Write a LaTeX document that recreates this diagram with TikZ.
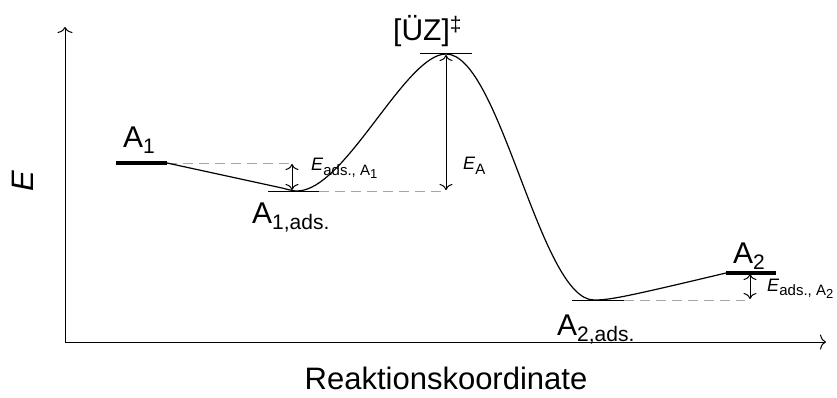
\documentclass[tikz,border=0pt]{standalone}
\usepackage{fontspec}
\setmainfont{Liberation Sans}
\usetikzlibrary{arrows.meta}
\newcommand\esub[1]{\raisebox{-0.45ex}{\fontsize{15}{15}\selectfont #1}}
\newcommand\nsub[1]{\raisebox{-0.35ex}{\fontsize{13}{13}\selectfont #1}}
\tikzset{
  lvlthick/.style={line width=3.5pt},
  lvlthin/.style={line width=1pt},
  guide/.style={gray!70, dash pattern=on 10pt off 6pt, line width=0.9pt},
  curve/.style={line width=1.2pt, line cap=round},
  dimarrow/.style={line width=1pt, {To[length=6pt,width=13pt]}-{To[length=6pt,width=13pt]}},
  axis/.style={line width=1pt, -{To[length=6pt,width=15pt]}},
  biglbl/.style={font=\fontsize{30}{33}\selectfont, inner sep=0pt, anchor=base west},
  axlbl/.style={font=\fontsize{31}{34}\selectfont, inner sep=0pt},
  smlbl/.style={font=\fontsize{18}{20}\selectfont, inner sep=0pt, anchor=base west}
}
\begin{document}
\begin{tikzpicture}[x=1pt,y=-1pt]
\useasboundingbox (0,0) rectangle (837,398);
% axes
\coordinate (O) at (65,342);
\coordinate (Ytop) at (65,27);
\coordinate (Xend) at (826,342);
\draw[axis] (O) -- (Ytop);
\draw[axis] (O) -- (Xend);
\node[axlbl, rotate=90] (Elbl) at (23,181) {\textit{E}};
\node[axlbl, anchor=base] (Xlbl) at (446,389) {Reaktionskoordinate};
% level coordinates
\coordinate (A1l) at (116,163);
\coordinate (A1r) at (167,163);
\coordinate (A1al) at (268,191);
\coordinate (A1ar) at (319,191);
\coordinate (A1m) at (297,191);
\coordinate (TSl) at (420,54);
\coordinate (TSr) at (472,54);
\coordinate (TSm) at (446,54);
\coordinate (A2al) at (572,300);
\coordinate (A2ar) at (624,300);
\coordinate (A2m) at (594,300);
\coordinate (A2l) at (726,273);
\coordinate (A2r) at (776,273);
% guide lines
\coordinate (G1) at (290,163);
\coordinate (G2) at (444,191);
\coordinate (G3) at (745,300);
\draw[guide] (A1r) -- (G1);
\draw[guide] (A1ar) -- (G2);
\draw[guide] (A2ar) -- (G3);
% levels
\draw[lvlthick] (A1l) -- (A1r);
\draw[lvlthin] (A1al) -- (A1ar);
\draw[lvlthin] (TSl) -- (TSr);
\draw[lvlthin] (A2al) -- (A2ar);
\draw[lvlthick] (A2l) -- (A2r);
% reaction path
\draw[curve] (A1r) -- (282,188)
  .. controls (290,190) and (293,191) .. (A1m)
  .. controls (345,191) and (405,54) .. (TSm)
  .. controls (500,54) and (540,300) .. (A2m)
  .. controls (610,300) and (625,297) .. (A2l);
% energy arrows
\coordinate (EAt) at (446,55);
\coordinate (EAb) at (446,190);
\draw[dimarrow] (EAt) -- (EAb);
\coordinate (E1t) at (292,164);
\coordinate (E1b) at (292,190);
\draw[dimarrow] (E1t) -- (E1b);
\coordinate (E2t) at (750,274);
\coordinate (E2b) at (750,299);
\draw[dimarrow] (E2t) -- (E2b);
% labels
\node[biglbl] (A1lbl) at (123,148) {A\textsubscript{1}};
\node[biglbl] (A1alab) at (252,223) {A\textsubscript{1,ads.}};
\node[biglbl] (TSlbl) at (393,41) {[ÜZ]\textsuperscript{‡}};
\node[biglbl] (A2alab) at (557,335) {A\textsubscript{2,ads.}};
\node[biglbl] (A2lbl) at (733,263) {A\textsubscript{2}};
\node[smlbl] (EAlbl) at (463,170) {\textit{E}\esub{A}};
\node[smlbl] (E1lbl) at (311,171) {\textit{E}\esub{ads., A\nsub{1}}};
\node[smlbl] (E2lbl) at (767,291) {\textit{E}\esub{ads., A\nsub{2}}};
\end{tikzpicture}
\end{document}
